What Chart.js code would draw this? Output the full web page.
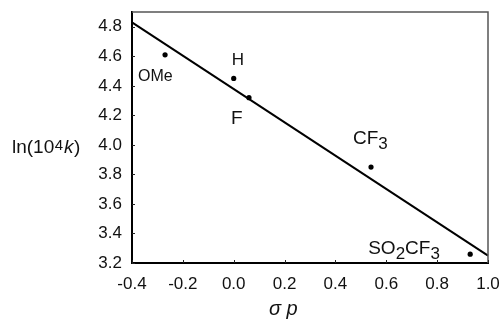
<!DOCTYPE html>
<html>
<head>
<meta charset="utf-8">
<script src="https://cdn.jsdelivr.net/npm/chart.js@4/dist/chart.umd.min.js"></script>
<style>
  html, body { margin: 0; padding: 0; background: #fff; }
  #wrap { width: 501px; height: 327px; }
</style>
</head>
<body>
<div id="wrap"><canvas id="chart"></canvas></div>
<script>
// substituents and their values
const substituents = ["OMe", "H", "F", "CF3", "SO2CF3"];
const sigmaP = [-0.27, 0.0, 0.06, 0.54, 0.93];
const lnK = [4.61, 4.45, 4.32, 3.85, 3.26];

// fitted line
const fitX = [-0.4, 1.0];
const fitY = [4.83, 3.25];

const xTicks = [-0.4, -0.2, 0.0, 0.2, 0.4, 0.6, 0.8, 1.0];
const yTicks = [3.2, 3.4, 3.6, 3.8, 4.0, 4.2, 4.4, 4.6, 4.8];

const FONT = "'Liberation Sans', Arial, sans-serif";

// how each label sits relative to its point: [dx, dy, size]
const labelStyle = {
  "OMe": [-27, 26, 16],
  "H": [-2, -13, 17],
  "F": [-18, 26, 19],
  "CF3": [-18, -23, 19],
  "SO2CF3": [-102, 0, 19]
};

// draws text with digits as subscripts
function drawChem(ctx, text, x, y, size) {
  let cx = x;
  for (const ch of text) {
    if (/[0-9]/.test(ch)) {
      ctx.font = (size - 2) + "px " + FONT;
      ctx.fillText(ch, cx, y + 4.5);
    } else {
      ctx.font = size + "px " + FONT;
      ctx.fillText(ch, cx, y);
    }
    cx += ctx.measureText(ch).width;
  }
}

function noPad(s) {
  s.paddingLeft = 0;
  s.paddingRight = 0;
  s.paddingTop = 0;
  s.paddingBottom = 0;
}

const extras = {
  id: "extras",
  afterDraw(chart) {
    const ctx = chart.ctx;
    const a = chart.chartArea;
    const xs = chart.scales.x, ys = chart.scales.y;
    ctx.save();

    // top and right frame
    ctx.strokeStyle = "#555";
    ctx.lineWidth = 1.5;
    ctx.beginPath();
    ctx.moveTo(a.left, a.top);
    ctx.lineTo(a.right, a.top);
    ctx.lineTo(a.right, a.bottom);
    ctx.stroke();

    // inward ticks
    ctx.strokeStyle = "#222";
    ctx.lineWidth = 1;
    ctx.beginPath();
    xTicks.forEach(v => {
      const px = Math.round(xs.getPixelForValue(v)) + 0.5;
      ctx.moveTo(px, a.bottom);
      ctx.lineTo(px, a.bottom - 3);
    });
    yTicks.forEach(v => {
      const py = Math.round(ys.getPixelForValue(v)) + 0.5;
      ctx.moveTo(a.left, py);
      ctx.lineTo(a.left + 3, py);
    });
    ctx.stroke();

    // point labels
    ctx.fillStyle = "#111";
    ctx.textBaseline = "alphabetic";
    ctx.textAlign = "left";
    substituents.forEach((name, i) => {
      const s = labelStyle[name];
      const px = xs.getPixelForValue(sigmaP[i]);
      const py = ys.getPixelForValue(lnK[i]);
      drawChem(ctx, name, px + s[0], py + s[1], s[2]);
    });

    // y axis title: ln(10^4 k)
    let tx = 12;
    const ty = 153;
    ctx.font = "19px " + FONT;
    ctx.fillText("ln(10", tx, ty);
    tx += ctx.measureText("ln(10").width + 0.5;
    ctx.font = "15px " + FONT;
    ctx.fillText("4", tx, ty - 3);
    tx += ctx.measureText("4").width + 1;
    ctx.font = "italic 19px " + FONT;
    ctx.fillText("k", tx, ty);
    tx += ctx.measureText("k").width + 0.5;
    ctx.font = "19px " + FONT;
    ctx.fillText(")", tx, ty);

    // x axis title
    ctx.font = "italic 20px " + FONT;
    ctx.fillText("σ p", 269, 315);

    ctx.restore();
  }
};

new Chart(document.getElementById("chart"), {
  type: "scatter",
  data: {
    datasets: [
      {
        label: "data",
        data: sigmaP.map((x, i) => ({ x: x, y: lnK[i] })),
        pointRadius: 2.6,
        pointBackgroundColor: "#000",
        pointBorderWidth: 0
      },
      {
        label: "fit",
        data: fitX.map((x, i) => ({ x: x, y: fitY[i] })),
        showLine: true,
        pointRadius: 0,
        borderColor: "#000",
        borderWidth: 2,
        clip: false
      }
    ]
  },
  options: {
    responsive: true,
    maintainAspectRatio: false,
    animation: false,
    layout: { padding: { top: 12, right: 13, left: 0, bottom: 0 } },
    plugins: {
      legend: { display: false },
      tooltip: { enabled: false }
    },
    scales: {
      x: {
        type: "linear",
        min: -0.4,
        max: 1.0,
        afterFit: s => { s.height = 64; noPad(s); },
        afterBuildTicks: s => { s.ticks = xTicks.map(v => ({ value: v })); },
        grid: { display: false, drawTicks: false },
        border: { color: "#000", width: 2 },
        ticks: {
          padding: 11,
          color: "#111",
          font: { family: FONT, size: 17 },
          maxRotation: 0,
          callback: v => v.toFixed(1)
        }
      },
      y: {
        type: "linear",
        min: 3.2,
        max: 4.9,
        afterFit: s => { s.width = 132; noPad(s); },
        afterBuildTicks: s => { s.ticks = yTicks.map(v => ({ value: v })); },
        grid: { display: false, drawTicks: false },
        border: { color: "#000", width: 2 },
        ticks: {
          padding: 10,
          color: "#111",
          font: { family: FONT, size: 17 },
          callback: v => v.toFixed(1)
        }
      }
    }
  },
  plugins: [extras]
});
</script>
</body>
</html>
